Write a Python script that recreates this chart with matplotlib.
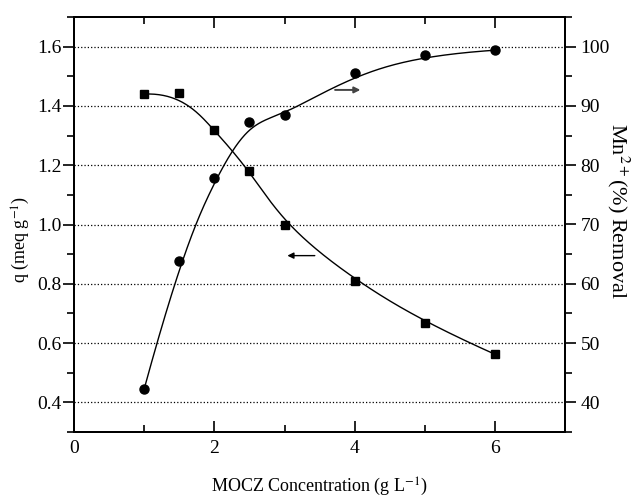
import numpy as np
import matplotlib
matplotlib.use("Agg")
import matplotlib.pyplot as plt

plt.rcParams['font.family'] = ['Liberation Serif', 'DejaVu Serif']
plt.rcParams['mathtext.fontset'] = 'stix'

conc = [1, 1.5, 2, 2.5, 3, 4, 5, 6]
q = [1.440, 1.445, 1.319, 1.182, 0.999, 0.809, 0.668, 0.562]
removal = [42.3, 63.9, 77.8, 87.3, 88.4, 95.5, 98.6, 99.4]


def bspline(px, py, num=400):
    # clamped cubic B-spline with the data points as control points
    px = np.asarray(px, float)
    py = np.asarray(py, float)
    n = len(px)
    k = 3
    knots = np.concatenate([[0] * k, np.arange(n - k + 1), [n - k] * k]).astype(float)
    u = np.linspace(0, n - k, num)
    u[-1] -= 1e-9
    N = np.zeros((num, len(knots) - 1))
    for i in range(len(knots) - 1):
        N[:, i] = (knots[i] <= u) & (u < knots[i + 1])
    for d in range(1, k + 1):
        Nn = np.zeros((num, len(knots) - 1 - d))
        for i in range(len(knots) - 1 - d):
            a = knots[i + d] - knots[i]
            b = knots[i + d + 1] - knots[i + 1]
            t1 = (u - knots[i]) / a * N[:, i] if a > 0 else 0
            t2 = (knots[i + d + 1] - u) / b * N[:, i + 1] if b > 0 else 0
            Nn[:, i] = t1 + t2
        N = Nn
    return N @ px, N @ py


fig = plt.figure(figsize=(6.33, 5), dpi=100)
ax = fig.add_axes([0.117, 0.136, 0.776, 0.830])
ax2 = ax.twinx()

cx, cy = bspline(conc, q)
ax.plot(cx, cy, color='black', lw=1)
ax.plot(conc, q, 's', color='black', ms=6)
cx, cy = bspline(conc, removal)
ax2.plot(cx, cy, color='black', lw=1)
ax2.plot(conc, removal, 'o', color='black', ms=6.5)

ax.set_xlim(0, 7)
ax.set_ylim(0.3, 1.7)
ax2.set_ylim(35, 105)

ax.set_xticks([0, 2, 4, 6])
ax.set_xticks([1, 3, 5], minor=True)
ax.set_yticks([0.4, 0.6, 0.8, 1.0, 1.2, 1.4, 1.6])
ax.set_yticks(np.arange(0.3, 1.71, 0.1), minor=True)
ax.set_yticklabels(['0.4', '0.6', '0.8', '1.0', '1.2', '1.4', '1.6'])
ax2.set_yticks([40, 50, 60, 70, 80, 90, 100])
ax2.set_yticks(np.arange(35, 105.1, 5), minor=True)

ax.grid(axis='y', which='major', ls=':', color='black', lw=0.9)

ax.tick_params(axis='x', which='both', direction='in', top=True, labelsize=14, pad=6)
ax.tick_params(axis='x', which='major', length=8, width=1.2)
ax.tick_params(axis='x', which='minor', length=5, width=1.2)
ax.tick_params(axis='y', which='major', direction='out', length=8, width=1.2, labelsize=14, pad=1)
ax.tick_params(axis='y', which='minor', direction='out', length=5, width=1.2)
ax2.tick_params(axis='y', which='major', direction='out', length=8, width=1.2, labelsize=14, pad=3)
ax2.tick_params(axis='y', which='minor', direction='out', length=5, width=1.2)

for a in (ax, ax2):
    for s in a.spines.values():
        s.set_linewidth(1.4)

ax.set_xlabel('MOCZ Concentration (g L$^{-1}$)', fontsize=13, labelpad=13)
ax.set_ylabel('q (meq g$^{-1}$)', fontsize=13, labelpad=4)
ax.yaxis.label.set_y(0.464)
ax2.set_ylabel('Mn$^{2+}$(%) Removal', fontsize=16, rotation=270, labelpad=15)
ax2.yaxis.label.set_y(0.533)

ax.annotate('', xy=(3.0, 0.895), xytext=(3.47, 0.895),
            arrowprops=dict(arrowstyle='-|>', color='black', lw=1, mutation_scale=9))
ax.annotate('', xy=(4.12, 1.454), xytext=(3.68, 1.454),
            arrowprops=dict(arrowstyle='-|>', color='#444444', lw=1.4, mutation_scale=9))

fig.savefig('out.png', dpi=100)
